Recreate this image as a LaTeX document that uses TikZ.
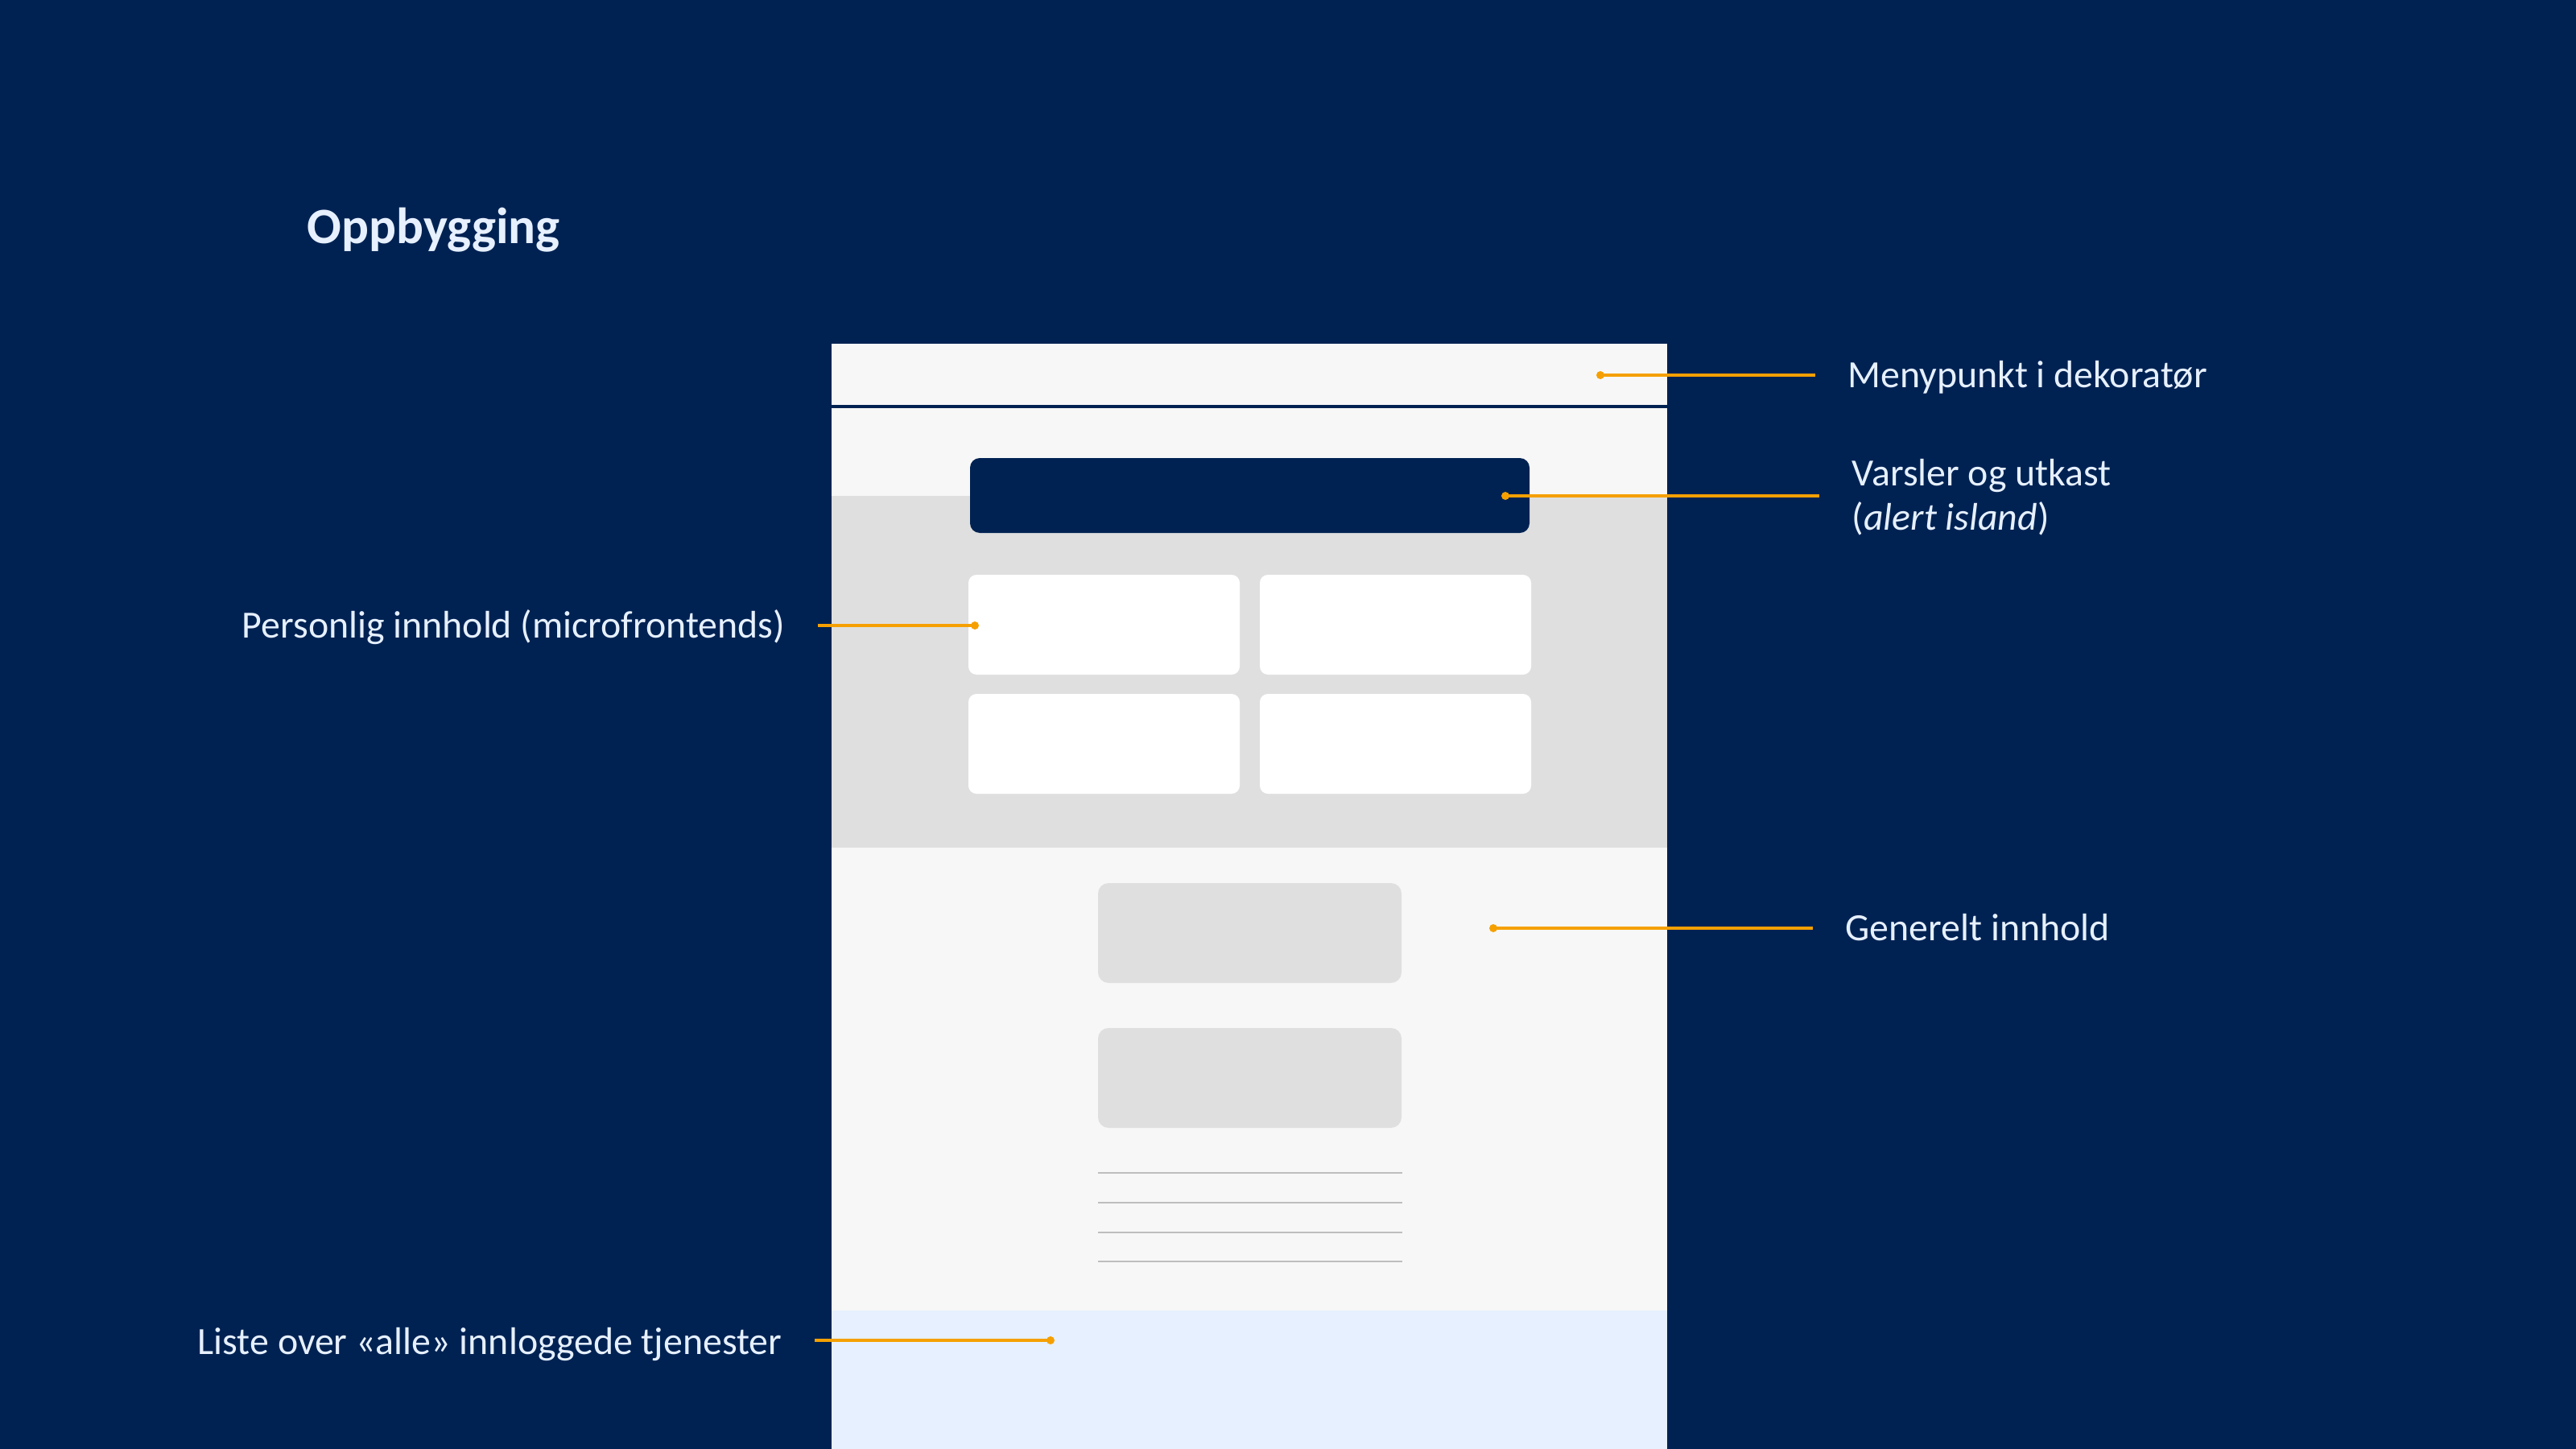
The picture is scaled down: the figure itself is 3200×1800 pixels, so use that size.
\documentclass[tikz,border=0pt]{standalone}
\usepackage{fontspec}
\setmainfont{Carlito}
\usepackage{xcolor}
\usetikzlibrary{positioning}
\definecolor{NAVY}{HTML}{002252}
\definecolor{PAPER}{HTML}{F7F7F7}
\definecolor{GREYBOX}{HTML}{DFDFDF}
\definecolor{LISTBLUE}{HTML}{E6F0FF}
\definecolor{RULE}{HTML}{BEBEBE}
\definecolor{MARK}{HTML}{F5A000}
\definecolor{TXT}{HTML}{E6F0FF}

\begin{document}
\begin{tikzpicture}[
    x=0.01cm, y=-0.01cm,
    anno/.style={font=\fontsize{13.6}{15.65}\selectfont, text=TXT, inner sep=0pt},
    head/.style={font=\bfseries\fontsize{18}{22}\selectfont, text=TXT, inner sep=0pt},
    lead/.style={draw=MARK, line width=1pt, shorten >=0.4cm},
    markdot/.style={fill=MARK},
    card/.style={fill=white, rounded corners=0.1cm},
    greycard/.style={fill=GREYBOX, rounded corners=0.13cm},
    textrule/.style={draw=RULE, line width=0.6pt},
  ]

  \def\dotr{0.05cm}

  % background, fixes the page size
  \fill[NAVY] (0,0) rectangle (3200,1800);

  \node[head, anchor=base west] (title) at (381,302) {Oppbygging};

  % --- page mock-up ---
  \fill[PAPER] (1033,427) rectangle (2071,1800);
  \draw[NAVY, line width=1pt] (1033,505) -- (2071,505);
  \fill[GREYBOX] (1033,616) rectangle (2071,1053);
  \fill[LISTBLUE] (1033,1628) rectangle (2071,1800);

  % alert island
  \fill[NAVY, rounded corners=0.12cm] (1205,569) rectangle (1900,662);

  % microfrontend cards
  \foreach \cx in {1203,1565} {
    \foreach \cy in {714,862} {
      \fill[card] (\cx,\cy) rectangle (\cx+337,\cy+124);
    }
  }

  % general content
  \fill[greycard] (1364,1097) rectangle (1741,1221);
  \fill[greycard] (1364,1277) rectangle (1741,1401);
  \foreach \ly in {1457,1494,1531,1567} {
    \draw[textrule] (1364,\ly) -- (1742,\ly);
  }

  % --- annotations ---
  \coordinate (menudot) at (1988,466);
  \coordinate (alertdot) at (1870,616);
  \coordinate (mfedot) at (1211,777);
  \coordinate (generaldot) at (1855,1153);
  \coordinate (listdot) at (1305,1665);

  \node[anno, anchor=base west] (menu) at (2295,481) {Menypunkt i dekoratør};
  \node[anno, anchor=north west, align=left] (alert) at (2300,570)
    {Varsler og utkast\\(\textit{alert island})};
  \node[anno, anchor=base east] (mfe) at (976,792) {Personlig innhold (microfrontends)};
  \node[anno, anchor=base west] (general) at (2292,1168) {Generelt innhold};
  \node[anno, anchor=base east] (list) at (972,1682) {Liste over «alle» innloggede tjenester};

  \draw[lead] (menudot) -- (menudot -| menu.west);
  \draw[lead] (alertdot) -- (alertdot -| alert.west);
  \draw[lead] (mfedot) -- (mfedot -| mfe.east);
  \draw[lead] (generaldot) -- (generaldot -| general.west);
  \draw[lead] (listdot) -- (listdot -| list.east);

  \foreach \d in {menudot,alertdot,mfedot,generaldot,listdot} {
    \fill[markdot] (\d) circle (\dotr);
  }

\end{tikzpicture}
\end{document}
